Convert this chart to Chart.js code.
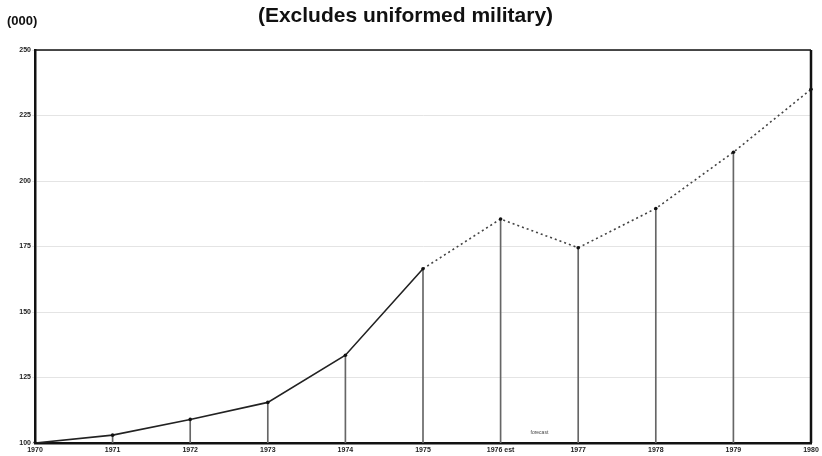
<!DOCTYPE html>
<html>
<head>
<meta charset="utf-8">
<script src="https://cdn.jsdelivr.net/npm/chart.js@4"></script>
<style>
  html, body { margin: 0; padding: 0; background: #fff; }
  #wrap { width: 822px; height: 456px; position: relative; }
</style>
</head>
<body>
<div id="wrap"><canvas id="c" width="822" height="456"></canvas></div>
<script>
const years = ["1970","1971","1972","1973","1974","1975","1976 est","1977","1978","1979","1980"];
const employment = [100, 103, 109, 115.5, 133.5, 166.5, 185.5, 174.5, 189.5, 211, 235];
const yTicks = [100, 125, 150, 175, 200, 225, 250];
const forecastStart = 5;
const titleText = "(Excludes uniformed military)";
const unitText = "(000)";
const forecastNote = "forecast";

const framePlugin = {
  id: 'frame',
  afterDraw(chart) {
    const {ctx, chartArea: a} = chart;
    ctx.save();
    ctx.strokeStyle = '#111';
    ctx.lineWidth = 1.5;
    ctx.beginPath(); ctx.moveTo(a.left, a.top); ctx.lineTo(a.right, a.top); ctx.stroke();
    ctx.lineWidth = 2.5;
    ctx.beginPath(); ctx.moveTo(a.right, a.top); ctx.lineTo(a.right, a.bottom); ctx.stroke();
    ctx.fillStyle = '#111';
    ctx.font = 'bold 13px "Liberation Sans Narrow", "Liberation Sans", Arial, sans-serif';
    ctx.textAlign = 'left'; ctx.textBaseline = 'middle';
    ctx.fillText(unitText, 7, 21);
    const xs = chart.scales.x, ys = chart.scales.y;
    ctx.font = '5px "Liberation Sans", Arial, sans-serif';
    ctx.fillStyle = '#444';
    ctx.textAlign = 'center';
    ctx.fillText(forecastNote, (xs.getPixelForValue(6) + xs.getPixelForValue(7)) / 2, ys.getPixelForValue(104));
    ctx.restore();
  }
};

new Chart(document.getElementById('c'), {
  data: {
    labels: years,
    datasets: [
      {
        type: 'line',
        data: employment,
        borderColor: '#222',
        borderWidth: 1.6,
        pointRadius: 1.8,
        pointBackgroundColor: '#111',
        pointBorderWidth: 0,
        tension: 0,
        order: 0,
        segment: {
          borderDash: ctx => ctx.p0DataIndex >= forecastStart ? [2, 3] : undefined,
          borderColor: ctx => ctx.p0DataIndex >= forecastStart ? '#444' : '#222'
        }
      },
      {
        type: 'bar',
        data: employment,
        backgroundColor: '#666',
        barThickness: 1,
        order: 1
      }
    ]
  },
  options: {
    responsive: false,
    animation: false,
    layout: { padding: { top: 0, right: 11, left: 0, bottom: 0 } },
    plugins: {
      legend: { display: false },
      tooltip: { enabled: false },
      title: {
        display: true,
        text: titleText,
        color: '#111',
        font: { family: '"Liberation Sans", Arial, sans-serif', size: 21, weight: 'bold' },
        padding: { top: 4, bottom: 20.8 }
      }
    },
    scales: {
      x: {
        type: 'category',
        offset: false,
        grid: { display: false, drawTicks: true, tickLength: 3 },
        border: { display: true, color: '#111', width: 2.5 },
        ticks: {
          autoSkip: false, maxRotation: 0, padding: 0,
          color: '#222',
          font: { family: '"Liberation Sans", Arial, sans-serif', size: 7, weight: 'bold' }
        },
        afterFit: s => { s.height = 13; }
      },
      y: {
        min: 100, max: 250,
        afterBuildTicks: s => { s.ticks = yTicks.map(v => ({ value: v })); },
        grid: { color: '#e4e4e4', lineWidth: 1, drawTicks: true, tickLength: 3 },
        border: { display: true, color: '#111', width: 2.5 },
        ticks: {
          padding: 1,
          color: '#222',
          font: { family: '"Liberation Sans", Arial, sans-serif', size: 7, weight: 'bold' }
        },
        afterFit: s => { s.width = 35; }
      }
    }
  },
  plugins: [framePlugin]
});
</script>
</body>
</html>
